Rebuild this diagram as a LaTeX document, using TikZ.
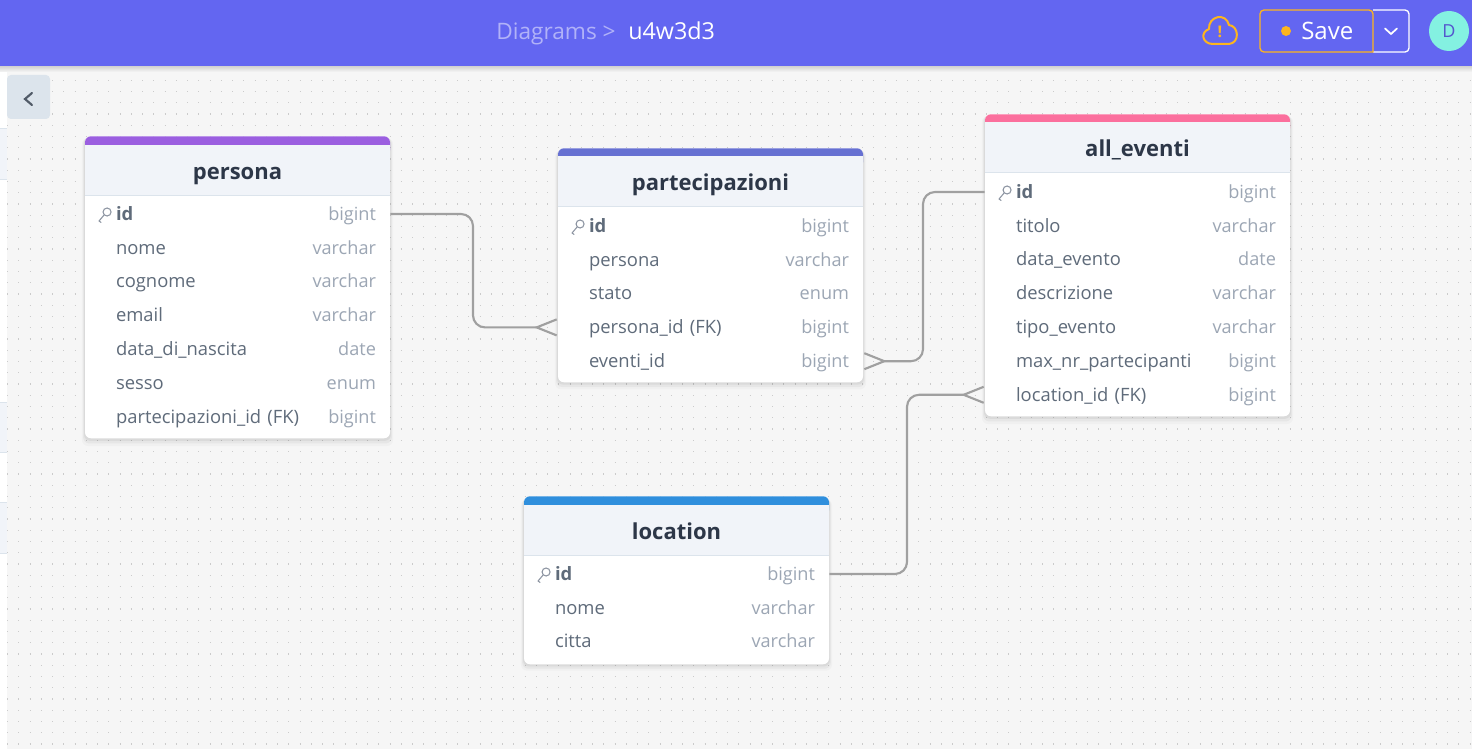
\documentclass[tikz,border=0pt]{standalone}
\usepackage{fontspec}
\setmainfont{Open Sans}
\usetikzlibrary{positioning,shadows,arrows.meta,calc}
\definecolor{navbar}{HTML}{6366F1}
\definecolor{canvasbg}{HTML}{F6F6F6}
\definecolor{griddot}{HTML}{CBCBCB}
\definecolor{headbg}{HTML}{F1F4F9}
\definecolor{headline}{HTML}{DCE4EC}
\definecolor{titleink}{HTML}{2D3748}
\definecolor{fieldink}{HTML}{5F6B7A}
\definecolor{typeink}{HTML}{9CA6B4}
\definecolor{relink}{HTML}{A0A0A0}
\definecolor{savegold}{HTML}{FDB51E}
\definecolor{avatarbg}{HTML}{84F1E1}
\definecolor{barpurple}{HTML}{9B5FE0}
\definecolor{barblue}{HTML}{6670D2}
\definecolor{barpink}{HTML}{FB6F9D}
\definecolor{barsky}{HTML}{2F8FDD}
\begin{document}
\begin{tikzpicture}[
    x=0.75pt, y=-0.75pt,
    tablebody/.style={rectangle, fill=white, rounded corners=4.5pt, anchor=north, minimum width=228.75pt, inner sep=0pt,
        drop shadow={shadow xshift=0pt, shadow yshift=-3.5pt, shadow scale=1.02, opacity=.025, fill=black},
        drop shadow={shadow xshift=0pt, shadow yshift=-2.5pt, shadow scale=1.012, opacity=.04, fill=black},
        drop shadow={shadow xshift=0pt, shadow yshift=-1.2pt, shadow scale=1.006, opacity=.05, fill=black}},
    tablebar/.style={rectangle, rounded corners=4.5pt, anchor=north, minimum width=228.75pt, minimum height=15pt, inner sep=0pt},
    tabletitle/.style={rectangle, fill=headbg, anchor=north, minimum width=228.75pt, minimum height=37.5pt, inner sep=0pt, text height=13.5pt, text depth=0pt, font=\fontsize{16.5pt}{18pt}\bfseries, text=titleink},
    fieldrow/.style={rectangle, anchor=center, text width=228.75pt, inner xsep=0pt, inner ysep=0pt, align=left, text height=10.5pt, text depth=1pt, font=\fontsize{13.8pt}{15pt}\selectfont\hspace*{23.25pt}, text=fieldink},
    fieldkey/.style={fieldrow, font=\fontsize{13.8pt}{15pt}\bfseries\hspace*{23.25pt}},
    typename/.style={anchor=east, xshift=-10.5pt, inner sep=0pt, text height=10.5pt, text depth=1pt, font=\fontsize{13.6pt}{15pt}\selectfont, text=typeink},
    relation/.style={draw=relink, line width=1.6pt, rounded corners=9pt},
    crowend/.style={-{Straight Barb[reversed, length=15pt, width=12pt, line width=1.6pt]}},
    crowstart/.style={{Straight Barb[reversed, length=15pt, width=12pt, line width=1.6pt]}-},
    pics/keyicon/.style={code={
        \draw[typeink!90!black, line width=.8pt] (1,-2) circle (3pt);
        \draw[typeink!90!black, line width=.8pt, line cap=round] (-2,1) -- (-7,7) -- (-5,8.5);
    }}
]
    % Canvas
    \useasboundingbox (0,0) rectangle (1472,749);
    \fill[canvasbg] (0,0) rectangle (1472,749);
    \foreach \dotrow in {0,...,60}
        \draw[griddot, line width=.9pt, dash pattern=on .9pt off 7.5375pt] (7,69+11.25*\dotrow) -- (1472,69+11.25*\dotrow);

    % Left strip
    \fill[white] (0,66) rectangle (7,749);
    \fill[headbg] (0,128) rectangle (7,179);
    \fill[headbg] (0,402) rectangle (7,452);
    \fill[headbg] (0,502) rectangle (7,553);
    \foreach \striprow in {128,179,402,452,502,553}
        \draw[headline] (0,\striprow) -- (7,\striprow);

    % Top bar
    \fill[top color=black!18, bottom color=canvasbg] (0,66) rectangle (1472,72);
    \node [rectangle, fill=navbar, anchor=north west, minimum width=1104pt, minimum height=49.5pt, inner sep=0pt] (navbar) at (0,0) {};
    \node [anchor=base west, inner sep=0pt, text=white!50!navbar, font=\fontsize{17pt}{18pt}\selectfont] (crumb) at (496,40) {Diagrams >};
    \node [anchor=base west, inner sep=0pt, text=white, font=\fontsize{17.5pt}{18pt}\selectfont] (diagramname) at (628,40) {u4w3d3};
    \draw[savegold, line width=1.5pt, line join=round] (1213,44) .. controls (1202,44) and (1200,32) .. (1209,29) .. controls (1208,16) and (1226,12) .. (1229,25) .. controls (1239,26) and (1240,43) .. (1229,44) -- cycle;
    \node [inner sep=0pt, text=savegold, font=\fontsize{12pt}{14pt}\bfseries] (cloudmark) at (1220,32) {!};
    \draw[white, line width=1pt, rounded corners=3pt] (1373,10) -- (1409,10) -- (1409,52) -- (1373,52);
    \draw[savegold, line width=1pt] (1373,52) [rounded corners=3pt] -- (1260,52) -- (1260,10) -- (1373,10) [sharp corners] -- cycle;
    \fill[savegold] (1286,31) circle (3.75pt);
    \node [anchor=base west, inner sep=0pt, text=white, font=\fontsize{18pt}{20pt}\selectfont] (savetext) at (1301,40) {Save};
    \draw[white, line width=1.3pt, line cap=round] (1385,28.5) -- (1391,34) -- (1397,28.5);
    \node [circle, fill=avatarbg, minimum size=30pt, inner sep=0pt, text=navbar!85!black, font=\fontsize{13.5pt}{15pt}\selectfont] (avatar) at (1449,31) {D};

    % Back button
    \fill[rounded corners=3pt, fill=headline] (7,75) rectangle (50,119);
    \draw[fieldink!85!black, line width=1.6pt, line cap=round] (32,93) -- (25,99) -- (32,105);

    % persona
    \node [tablebody, minimum height=226.5pt] (persona) at (237.5,136) {};
    \node [tablebar, fill=barpurple] (personabar) at (persona.north) {};
    \node [tabletitle] (personatitle) at ([yshift=-6.75pt]persona.north) {persona};
    \draw[headline] (personatitle.south west) -- (personatitle.south east);
    \node [fieldkey, label={[typename]east:bigint}] (persona1) at ([yshift=-58.5pt]persona.north) {id};
    \foreach \fname/\ftype [count=\n from 2] in {nome/varchar, cognome/varchar, email/varchar, data\_di\_nascita/date, sesso/enum, partecipazioni\_id (FK)/bigint}
        \node [fieldrow, label={[typename]east:\ftype}] (persona\n) at ([yshift={-(58.5+25.35*(\n-1))*1pt}]persona.north) {\fname};
    \pic at ([xshift=16pt]persona1.west) {keyicon};

    % partecipazioni
    \node [tablebody, minimum height=175.5pt] (partecipazioni) at (710.5,148) {};
    \node [tablebar, fill=barblue] (partecipazionibar) at (partecipazioni.north) {};
    \node [tabletitle] (partecipazionititle) at ([yshift=-6pt]partecipazioni.north) {partecipazioni};
    \draw[headline] (partecipazionititle.south west) -- (partecipazionititle.south east);
    \node [fieldkey, label={[typename]east:bigint}] (partecipazioni1) at ([yshift=-58.5pt]partecipazioni.north) {id};
    \foreach \fname/\ftype [count=\n from 2] in {persona/varchar, stato/enum, persona\_id (FK)/bigint, eventi\_id/bigint}
        \node [fieldrow, label={[typename]east:\ftype}] (partecipazioni\n) at ([yshift={-(58.5+25.35*(\n-1))*1pt}]partecipazioni.north) {\fname};
    \pic at ([xshift=16pt]partecipazioni1.west) {keyicon};

    % all_eventi
    \node [tablebody, minimum height=226.5pt] (alleventi) at (1137.5,114) {};
    \node [tablebar, fill=barpink] (alleventibar) at (alleventi.north) {};
    \node [tabletitle] (alleventititle) at ([yshift=-6pt]alleventi.north) {all\_eventi};
    \draw[headline] (alleventititle.south west) -- (alleventititle.south east);
    \node [fieldkey, label={[typename]east:bigint}] (alleventi1) at ([yshift=-58.5pt]alleventi.north) {id};
    \foreach \fname/\ftype [count=\n from 2] in {titolo/varchar, data\_evento/date, descrizione/varchar, tipo\_evento/varchar, max\_nr\_partecipanti/bigint, location\_id (FK)/bigint}
        \node [fieldrow, label={[typename]east:\ftype}] (alleventi\n) at ([yshift={-(58.5+25.35*(\n-1))*1pt}]alleventi.north) {\fname};
    \pic at ([xshift=16pt]alleventi1.west) {keyicon};

    % location
    \node [tablebody, minimum height=126pt] (location) at (676.5,496) {};
    \node [tablebar, fill=barsky] (locationbar) at (location.north) {};
    \node [tabletitle] (locationtitle) at ([yshift=-6.75pt]location.north) {location};
    \draw[headline] (locationtitle.south west) -- (locationtitle.south east);
    \node [fieldkey, label={[typename]east:bigint}] (location1) at ([yshift=-58.5pt]location.north) {id};
    \foreach \fname/\ftype [count=\n from 2] in {nome/varchar, citta/varchar}
        \node [fieldrow, label={[typename]east:\ftype}] (location\n) at ([yshift={-(58.5+25.35*(\n-1))*1pt}]location.north) {\fname};
    \pic at ([xshift=16pt]location1.west) {keyicon};

    % Relations
    \coordinate (turnone) at (473,270);
    \coordinate (turntwo) at (923,270);
    \coordinate (turnthree) at (907,480);
    \draw [relation, crowend] (persona1.east) -| (turnone) |- (partecipazioni4.west);
    \draw [relation, crowstart] (partecipazioni5.east) -| (turntwo) |- (alleventi1.west);
    \draw [relation, crowend] (location1.east) -| (turnthree) |- (alleventi7.west);
\end{tikzpicture}
\end{document}
